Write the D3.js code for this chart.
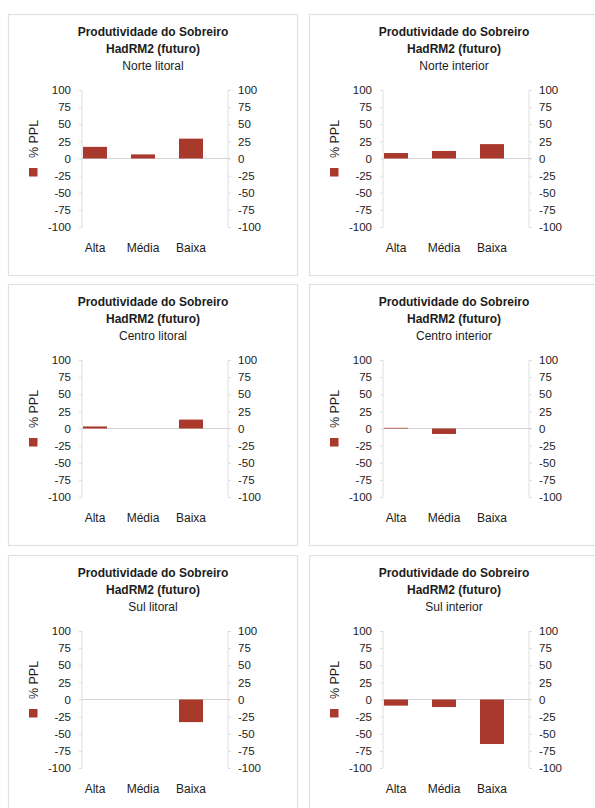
<!DOCTYPE html>
<html>
<head>
<meta charset="utf-8">
<script src="https://cdn.jsdelivr.net/npm/d3@7"></script>
<style>
  body { margin: 0; background: #fff; }
  text { font-family: "Liberation Sans", Arial, sans-serif; fill: #1c1c1c; }
</style>
</head>
<body>
<script>
"use strict";
// Produtividade do Sobreiro, HadRM2 (futuro), six regions
var categories = ["Alta", "Média", "Baixa"];
var regionNames = ["Norte litoral", "Norte interior", "Centro litoral", "Centro interior", "Sul litoral", "Sul interior"];
var norteLitoral = [17, 6, 29];
var norteInterior = [8, 11, 21];
var centroLitoral = [3, 0, 13];
var centroInterior = [1, -8, 0];
var sulLitoral = [0, 0, -33];
var sulInterior = [-9, -11, -65];
var yTicks = [100, 75, 50, 25, 0, -25, -50, -75, -100];
var titleLine1 = "Produtividade do Sobreiro";
var titleLine2 = "HadRM2 (futuro)";
var legendLabel = "% PPL";

var regionValues = [norteLitoral, norteInterior, centroLitoral, centroInterior, sulLitoral, sulInterior];

var W = 595, H = 808;
var colOffsets = [0, 301];
var rowOffsets = [0, 270, 541];
var barColor = "#a9382d";
var lineGrey = "#dedede";

var svg = d3.select("body").append("svg")
    .attr("width", W)
    .attr("height", H);

// same scales for every panel, panels are just translated
var y = d3.scaleLinear().domain([-100, 100]).range([227, 90]);
var x = d3.scaleBand().domain(categories).range([71, 215])
    .paddingInner(0.5).paddingOuter(0.25);
var axisLeftX = 82, axisRightX = 228;
// plain hyphen for negatives, like the original sheet
var fmt = function (d) { return String(d); };

function drawPanel(g, name, values) {
    // frame
    g.append("rect")
        .attr("x", 8.5).attr("y", 14.5)
        .attr("width", 289).attr("height", 261)
        .attr("fill", "none")
        .attr("stroke", "#e2e2e2")
        .attr("stroke-width", 1.2);

    // titles
    g.append("text").attr("x", 153).attr("y", 36)
        .attr("text-anchor", "middle")
        .style("font-weight", "bold").style("font-size", "12px")
        .text(titleLine1);
    g.append("text").attr("x", 153).attr("y", 52.5)
        .attr("text-anchor", "middle")
        .style("font-weight", "bold").style("font-size", "12px")
        .text(titleLine2);
    g.append("text").attr("x", 153).attr("y", 69.5)
        .attr("text-anchor", "middle")
        .style("font-size", "12px")
        .text(name);

    // axes (left and right, same values)
    var left = d3.axisLeft(y).tickValues(yTicks).tickFormat(fmt).tickSize(3).tickPadding(8);
    var right = d3.axisRight(y).tickValues(yTicks).tickFormat(fmt).tickSize(3).tickPadding(7);
    var gl = g.append("g").attr("transform", "translate(" + axisLeftX + ",0)").call(left);
    var gr = g.append("g").attr("transform", "translate(" + axisRightX + ",0)").call(right);
    [gl, gr].forEach(function (a) {
        a.select(".domain").remove();
        a.selectAll(".tick line").attr("stroke", lineGrey);
        a.selectAll(".tick text").style("font-size", "11.5px").attr("fill", "#1c1c1c");
        // plain vertical axis line (no end caps)
        a.append("line").attr("x1", 0).attr("x2", 0)
            .attr("y1", y(100)).attr("y2", y(-100)).attr("stroke", lineGrey);
    });

    // zero line
    g.append("line")
        .attr("x1", axisLeftX).attr("x2", axisRightX + 2)
        .attr("y1", y(0)).attr("y2", y(0))
        .attr("stroke", "#d4d4d4").attr("stroke-width", 1.2);

    // bars
    g.selectAll("rect.bar").data(values)
        .enter().append("rect")
        .attr("class", "bar")
        .attr("x", function (d, i) { return x(categories[i]); })
        .attr("width", x.bandwidth())
        .attr("y", function (d) { return y(Math.max(0, d)); })
        .attr("height", function (d) { return Math.abs(y(d) - y(0)); })
        .attr("fill", barColor);

    // category labels
    g.selectAll("text.cat").data(categories)
        .enter().append("text")
        .attr("class", "cat")
        .attr("x", function (d) { return x(d) + x.bandwidth() / 2; })
        .attr("y", 251.5)
        .attr("text-anchor", "middle")
        .style("font-size", "12px")
        .text(function (d) { return d; });

    // legend, rotated
    g.append("rect")
        .attr("x", 29).attr("y", 168)
        .attr("width", 8.5).attr("height", 8.5)
        .attr("fill", barColor);
    g.append("text")
        .attr("transform", "translate(37.5,139) rotate(-90)")
        .attr("text-anchor", "middle")
        .style("font-size", "12.5px")
        .text(legendLabel);
}

regionNames.forEach(function (name, i) {
    var col = i % 2, row = Math.floor(i / 2);
    var g = svg.append("g")
        .attr("transform", "translate(" + colOffsets[col] + "," + rowOffsets[row] + ")");
    drawPanel(g, name, regionValues[i]);
});
</script>
</body>
</html>
